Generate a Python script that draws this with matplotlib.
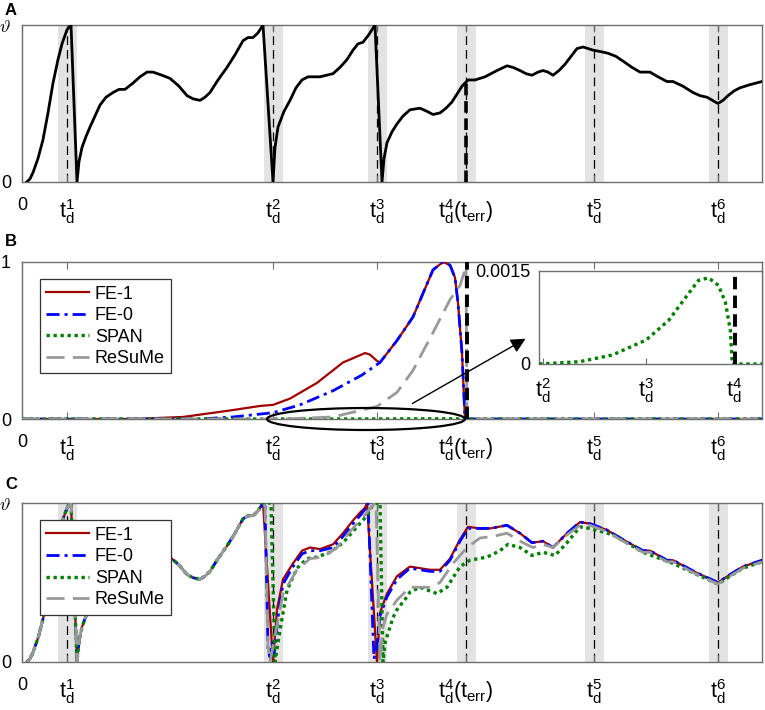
import matplotlib
matplotlib.use('Agg')
import matplotlib.pyplot as plt
from matplotlib.patches import Ellipse

plt.rcParams['font.family'] = ['Liberation Sans', 'DejaVu Sans']
plt.rcParams['mathtext.fontset'] = 'custom'
plt.rcParams['mathtext.rm'] = 'Liberation Sans'
plt.rcParams['mathtext.it'] = 'Liberation Sans:italic'
plt.rcParams['font.size'] = 13

############
# desired spike times (time axis 0..740)
############
t_d = [45, 251, 355, 444, 572, 696]
t_end = 740
band = 9.5
x_labels = ['0',
            r'$\mathrm{t}_\mathrm{d}^{1}$',
            r'$\mathrm{t}_\mathrm{d}^{2}$',
            r'$\mathrm{t}_\mathrm{d}^{3}$',
            r'$\mathrm{t}_\mathrm{d}^{4}\mathrm{(t}_\mathrm{err}\mathrm{)}$',
            r'$\mathrm{t}_\mathrm{d}^{5}$',
            r'$\mathrm{t}_\mathrm{d}^{6}$']
inset_labels = [r'$\mathrm{t}_\mathrm{d}^{2}$', r'$\mathrm{t}_\mathrm{d}^{3}$', r'$\mathrm{t}_\mathrm{d}^{4}$']

# A - target membrane potential, part up to the 2nd desired spike
a1_t = [4.7, 8, 11, 16, 21, 26, 31, 36, 40, 45, 49, 55, 57, 60, 64, 68, 73, 78, 84, 91, 97, 103, 107, 111, 118, 125,
        131, 140, 148, 157, 165, 171, 178, 183, 188, 196, 205, 213, 221, 226, 231, 236, 241]
a1_v = [0, 0.02, 0.06, 0.15, 0.27, 0.44, 0.63, 0.78, 0.88, 0.97, 1.0, 0, 0.13, 0.22, 0.29, 0.35, 0.42, 0.49, 0.54,
        0.57, 0.59, 0.59, 0.61, 0.63, 0.67, 0.70, 0.70, 0.68, 0.66, 0.61, 0.55, 0.53, 0.52, 0.54, 0.57, 0.65, 0.73,
        0.81, 0.90, 0.92, 0.92, 0.95, 1.0]
# rest of the target
a2_t = [251, 253, 256, 262, 268, 274, 280, 286, 298, 311, 318, 325, 331, 336, 341, 347, 353, 360, 362, 365, 370, 375,
        381, 388, 398, 405, 411, 418, 424, 430, 435, 440, 446, 453, 463, 469, 475, 485, 491, 498, 504, 510, 516, 521,
        526, 531, 537, 543, 549, 555, 561, 566, 571, 579, 586, 594, 601, 610, 618, 628, 636, 645, 651, 661, 671, 678,
        685, 696, 701, 706, 712, 718, 728, 740]
a2_v = [0, 0.22, 0.35, 0.45, 0.52, 0.60, 0.65, 0.67, 0.67, 0.69, 0.73, 0.78, 0.84, 0.88, 0.89, 0.94, 1.0, 0, 0.15,
        0.25, 0.32, 0.37, 0.42, 0.46, 0.47, 0.45, 0.43, 0.44, 0.47, 0.51, 0.56, 0.61, 0.65, 0.65, 0.67, 0.69, 0.71,
        0.74, 0.73, 0.71, 0.69, 0.68, 0.70, 0.71, 0.70, 0.68, 0.71, 0.75, 0.80, 0.85, 0.86, 0.85, 0.84, 0.83, 0.82,
        0.80, 0.77, 0.73, 0.70, 0.70, 0.67, 0.64, 0.64, 0.61, 0.57, 0.55, 0.54, 0.50, 0.52, 0.55, 0.58, 0.60, 0.62,
        0.64]
a_err_top = 0.64

# B - error signals
fe1_t = [0, 111, 161, 211, 238, 251, 268, 295, 321, 343, 348, 355, 358, 375, 391, 401, 411, 421, 428, 433, 436, 440, 443, 740]
fe1_v = [0, 0, 0.013, 0.057, 0.083, 0.09, 0.13, 0.23, 0.36, 0.42, 0.41, 0.37, 0.36, 0.50, 0.65, 0.80, 0.95, 1.0, 0.98, 0.90, 0.74, 0.42, 0, 0]
fe0_t = [0, 178, 211, 251, 278, 311, 340, 358, 375, 391, 401, 411, 421, 428, 433, 436, 440, 443, 740]
fe0_v = [0, 0, 0.013, 0.04, 0.09, 0.18, 0.28, 0.36, 0.50, 0.65, 0.80, 0.95, 1.0, 0.98, 0.90, 0.74, 0.42, 0, 0]
resume_t = [0, 261, 311, 355, 375, 391, 411, 428, 438, 444, 445, 740]
resume_v = [0, 0, 0.013, 0.08, 0.17, 0.31, 0.55, 0.76, 0.85, 0.97, 0, 0]
span_t = [0, 247, 288, 321, 355, 378, 398, 408, 418, 428, 435, 440, 442, 740]
span_v = [0, 0, 0.0000375, 0.000145, 0.000386, 0.000707, 0.00114, 0.00135, 0.00139, 0.00127, 0.001, 0.00055, 0, 0]

# C - trained output potentials (after the 2nd desired spike)
c_fe1_t = [251, 255, 261, 271, 280, 288, 298, 311, 321, 331, 338, 343, 345, 355, 358, 365, 375, 388, 408, 418,
           428, 438, 446, 458, 468, 485, 498, 510, 521, 531, 545, 558, 568, 585, 601, 621, 628, 645, 651, 675,
           696, 708, 721, 740]
c_fe1_v = [0, 0.33, 0.52, 0.62, 0.70, 0.72, 0.71, 0.74, 0.81, 0.89, 0.94, 0.97, 1.0, 0, 0.31, 0.43, 0.54, 0.60,
           0.58, 0.58, 0.65, 0.77, 0.85, 0.84, 0.84, 0.86, 0.81, 0.75, 0.76, 0.72, 0.81, 0.88, 0.87, 0.83,
           0.77, 0.70, 0.70, 0.64, 0.64, 0.56, 0.50, 0.55, 0.60, 0.64]
c_fe0_t = [243, 246, 248, 250, 252, 256, 261, 271, 280, 288, 298, 311, 321, 331, 338, 343, 346, 352, 355, 358,
           365, 375, 388, 408, 418, 428, 438, 446, 458, 468, 485, 498, 510, 521, 531, 545, 558, 568, 585, 601,
           621, 628, 645, 651, 675, 696, 708, 721, 740]
c_fe0_v = [0.98, 0.08, 0.03, 0.12, 0.04, 0.28, 0.49, 0.60, 0.68, 0.70, 0.70, 0.72, 0.79, 0.87, 0.92, 0.96,
           1.0, 0.02, 0.1, 0.29, 0.41, 0.52, 0.59, 0.57, 0.57, 0.64, 0.76, 0.84, 0.84, 0.84, 0.86, 0.81, 0.75,
           0.76, 0.72, 0.81, 0.88, 0.87, 0.83, 0.77, 0.70, 0.70, 0.64, 0.64, 0.56, 0.50, 0.55, 0.60, 0.64]
c_span_t = [246, 249, 253, 258, 265, 275, 285, 295, 308, 321, 335, 345, 351, 355, 358, 361, 363, 371, 375, 385,
            388, 398, 415, 425, 438, 448, 465, 478, 486, 498, 510, 521, 533, 545, 558, 568, 591, 621, 651, 675,
            696, 708, 721, 740]
c_span_v = [1.0, 1.0, 0, 0.20, 0.45, 0.59, 0.65, 0.66, 0.69, 0.75, 0.85, 0.92, 0.99, 1.0, 1.0, 0, 0.12, 0.28,
            0.33, 0.41, 0.44, 0.47, 0.43, 0.47, 0.60, 0.64, 0.66, 0.70, 0.74, 0.72, 0.67, 0.69, 0.67, 0.75,
            0.85, 0.84, 0.80, 0.69, 0.62, 0.55, 0.49, 0.54, 0.59, 0.63]
c_resume_t = [243, 246, 248, 261, 275, 288, 301, 315, 328, 341, 350, 354, 358, 361, 365, 375, 388, 408, 418,
              431, 445, 458, 471, 485, 501, 511, 521, 531, 545, 558, 568, 585, 601, 621, 628, 645, 651, 675,
              696, 708, 721, 740]
c_resume_v = [0.98, 0.1, 0, 0.43, 0.58, 0.65, 0.66, 0.72, 0.82, 0.91, 0.98, 1.0, 0, 0.22, 0.30, 0.39, 0.47,
              0.47, 0.50, 0.62, 0.72, 0.78, 0.79, 0.81, 0.75, 0.72, 0.74, 0.72, 0.80, 0.86, 0.86, 0.82, 0.76,
              0.69, 0.69, 0.63, 0.63, 0.55, 0.49, 0.54, 0.59, 0.63]

c_red = '#a00000'
c_blue = '#0000ff'
c_green = '#008000'
c_gray = '#999999'
c_frame = '#6e6e6e'
c_band = '#e3e3e3'


def style_axes(ax, ylabels):
    ax.set_xlim(0, t_end)
    ax.set_ylim(0, 1)
    ax.set_xticks([0] + t_d, x_labels)
    ax.set_yticks([0, 1], ylabels)
    ax.tick_params(direction='in', top=True, length=5, color=c_frame, labelsize=13)
    ax.tick_params(axis='x', pad=11)
    ax.tick_params(axis='y', pad=8, length=0)
    for tk in ax.xaxis.get_major_ticks()[1:]:
        tk.label1.set_fontsize(15.5)
    for s in ax.spines.values():
        s.set_color(c_frame)
        s.set_linewidth(1.0)


def draw_bands(ax):
    for t in t_d:
        ax.axvspan(t - band, t + band, color=c_band, lw=0, zorder=0)
        ax.axvline(t, color='black', lw=0.9, dashes=(7, 4), zorder=1)


def draw_lines(ax, sets):
    ax.plot(sets[0][0], sets[0][1], color=c_red, lw=1.6, label='FE-1', zorder=3)
    ax.plot(sets[1][0], sets[1][1], color=c_blue, lw=2.0, dashes=(4.7, 1.8, 1.1, 1.8), label='FE-0', zorder=4)
    ax.plot(sets[2][0], sets[2][1], color=c_green, lw=2.4, dashes=(1, 1.1), label='SPAN', zorder=5)
    ax.plot(sets[3][0], sets[3][1], color=c_gray, lw=2.0, dashes=(6.5, 3.0), label='ReSuMe', zorder=6)


def add_legend(ax):
    leg = ax.legend(loc='upper left', bbox_to_anchor=(0.024, 0.89), borderaxespad=0, fancybox=False,
                    edgecolor='#333333', framealpha=1, handlelength=2.4, handletextpad=0.3, labelspacing=0.25,
                    borderpad=0.35, fontsize=13)
    leg.get_frame().set_linewidth(0.9)
    leg.set_zorder(20)


fig = plt.figure(figsize=(7.65, 7.1), dpi=100)
L, W = 22 / 765, 740 / 765

# ---------------- A
axA = fig.add_axes([L, 1 - 182 / 710, W, 157 / 710])
draw_bands(axA)
axA.plot(a1_t + a2_t, a1_v + a2_v, color='black', lw=2.0, zorder=3)
axA.plot([t_d[3], t_d[3]], [0, a_err_top], color='black', lw=2.6, dashes=(3.2, 1.6), zorder=4)
style_axes(axA, ['0', r'$\vartheta$'])
axA.yaxis.get_major_ticks()[1].label1.set_math_fontfamily('cm')

# ---------------- B
axB = fig.add_axes([L, 1 - 419 / 710, W, 157 / 710])
draw_lines(axB, [(fe1_t, fe1_v), (fe0_t, fe0_v), (span_t, span_v), (resume_t, resume_v)])
axB.axvline(t_d[3] + 1, color='black', lw=2.8, dashes=(3.2, 1.6), zorder=7)
style_axes(axB, ['0', '1'])
add_legend(axB)
axB.add_patch(Ellipse((344, 0), 198, 0.14, fill=False, edgecolor='black', lw=1.6, clip_on=False, zorder=8))
axB.annotate('', xy=(506, 0.52), xytext=(388, 0.09),
             arrowprops=dict(arrowstyle='-|>', color='black', lw=1.0, mutation_scale=22), zorder=8)

# inset
axI = fig.add_axes([539 / 765, 1 - 364 / 710, 223 / 765, 93 / 710])
axI.plot(span_t, span_v, color=c_green, lw=2.4, dashes=(1, 1.1), zorder=3)
axI.plot([t_d[3] + 1, t_d[3] + 1], [0, 0.0015], color='black', lw=2.8, dashes=(3.2, 1.6), zorder=4)
axI.set_xlim(247, 472)
axI.set_ylim(0, 0.0015)
axI.set_xticks(t_d[1:4], inset_labels)
axI.set_yticks([0, 0.0015], ['0', '0.0015'])
axI.tick_params(direction='in', length=4, color=c_frame, labelsize=13)
axI.tick_params(axis='x', pad=9)
axI.tick_params(axis='y', pad=6, length=0)
for tk in axI.xaxis.get_major_ticks():
    tk.label1.set_fontsize(15.5)
for s in axI.spines.values():
    s.set_color(c_frame)
    s.set_linewidth(1.0)

# ---------------- C
axC = fig.add_axes([L, 1 - 662 / 710, W, 159 / 710])
draw_bands(axC)
draw_lines(axC, [(a1_t + c_fe1_t, a1_v + c_fe1_v), (a1_t + c_fe0_t, a1_v + c_fe0_v),
                 (a1_t + c_span_t, a1_v + c_span_v), (a1_t + c_resume_t, a1_v + c_resume_v)])
style_axes(axC, ['0', r'$\vartheta$'])
axC.yaxis.get_major_ticks()[1].label1.set_math_fontfamily('cm')
add_legend(axC)

fig.text(5 / 765, 1 - 3 / 710, 'A', fontsize=12, fontweight='bold', va='top')
fig.text(5 / 765, 1 - 234 / 710, 'B', fontsize=12, fontweight='bold', va='top')
fig.text(5 / 765, 1 - 477 / 710, 'C', fontsize=12, fontweight='bold', va='top')

fig.savefig('out.png', dpi=100)
